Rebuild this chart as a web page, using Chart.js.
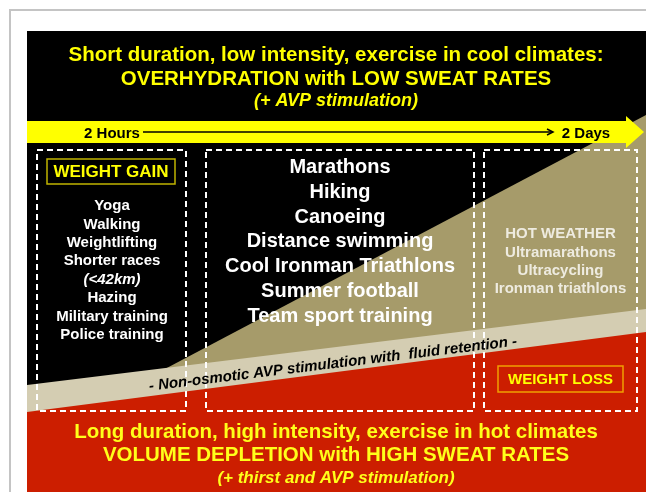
<!DOCTYPE html>
<html>
<head>
<meta charset="utf-8">
<script src="https://cdn.jsdelivr.net/npm/chart.js@4.4.0/dist/chart.umd.min.js"></script>
<style>
  html, body { margin: 0; padding: 0; background: #fff; }
  canvas { display: block; }
</style>
</head>
<body>
<canvas id="hydration" width="646" height="492"></canvas>
<script>
// texts
const topTitle = ['Short duration, low intensity, exercise in cool climates:', 'OVERHYDRATION with LOW SWEAT RATES', '(+ AVP stimulation)'];
const bottomTitle = ['Long duration, high intensity, exercise in hot climates', 'VOLUME DEPLETION with HIGH SWEAT RATES', '(+ thirst and AVP stimulation)'];
const timeLabels = ['2 Hours', '2 Days'];
const shortActivities = ['Yoga', 'Walking', 'Weightlifting', 'Shorter races', '(<42km)', 'Hazing', 'Military training', 'Police training'];
const midActivities = ['Marathons', 'Hiking', 'Canoeing', 'Distance swimming', 'Cool Ironman Triathlons', 'Summer football', 'Team sport training'];
const hotActivities = ['HOT WEATHER', 'Ultramarathons', 'Ultracycling', 'Ironman triathlons'];
const outcomes = ['WEIGHT GAIN', 'WEIGHT LOSS'];
const bandLabel = '- Non-osmotic AVP stimulation with  fluid retention -';

// region boundaries (x from left, y from top)
const bandX = [27, 646];
const bandTop = [385, 309];
const bandBottom = [412, 332];
const wedgeX = [163, 646];
const wedgeTop = [370, 115];

const KHAKI = '#a69b6a';
const BEIGE = '#d4cdb2';
const RED = '#cc1e00';
const YELLOW = '#ffff00';
const FONT = '"Liberation Sans", Arial, sans-serif';

const pts = (xs, ys) => xs.map((x, i) => ({ x, y: ys[i] }));

function label(ctx, s, x, y, size, color, italic) {
  ctx.font = (italic ? 'italic ' : '') + 'bold ' + size + 'px ' + FONT;
  ctx.fillStyle = color;
  ctx.textAlign = 'center';
  ctx.textBaseline = 'middle';
  ctx.fillText(s, x, y);
}

const backdrop = {
  id: 'backdrop',
  beforeDraw(chart) {
    const { ctx } = chart;
    const X = v => chart.scales.x.getPixelForValue(v);
    const Y = v => chart.scales.y.getPixelForValue(v);
    ctx.save();
    ctx.fillStyle = '#fff';
    ctx.fillRect(0, 0, chart.width, chart.height);
    // thin grey frame
    ctx.strokeStyle = '#c4c4c4';
    ctx.lineWidth = 2;
    ctx.beginPath();
    ctx.moveTo(X(10), Y(492));
    ctx.lineTo(X(10), Y(10));
    ctx.lineTo(X(646), Y(10));
    ctx.stroke();
    // black panel
    ctx.fillStyle = '#000';
    ctx.fillRect(X(27), Y(31), X(646) - X(27), Y(412) - Y(31));
    ctx.restore();
  },
  afterDatasetsDraw(chart) {
    const { ctx } = chart;
    const X = v => chart.scales.x.getPixelForValue(v);
    const Y = v => chart.scales.y.getPixelForValue(v);
    ctx.save();

    // bottom red panel
    ctx.fillStyle = RED;
    ctx.fillRect(X(27), Y(412), X(646) - X(27), Y(492) - Y(412));

    // time arrow
    ctx.fillStyle = YELLOW;
    ctx.fillRect(X(27), Y(121), X(627) - X(27), Y(143) - Y(121));
    ctx.beginPath();
    ctx.moveTo(X(626), Y(116));
    ctx.lineTo(X(644), Y(132));
    ctx.lineTo(X(626), Y(148));
    ctx.closePath();
    ctx.fill();
    ctx.strokeStyle = '#000';
    ctx.lineWidth = 1.5;
    ctx.beginPath();
    ctx.moveTo(X(143), Y(132));
    ctx.lineTo(X(552), Y(132));
    ctx.stroke();
    ctx.beginPath();
    ctx.moveTo(X(547), Y(129));
    ctx.lineTo(X(553), Y(132));
    ctx.lineTo(X(547), Y(135));
    ctx.stroke();
    label(ctx, timeLabels[0], X(112), Y(134), 15, '#000');
    label(ctx, timeLabels[1], X(586), Y(134), 15, '#000');

    // dashed boxes
    ctx.strokeStyle = '#fff';
    ctx.lineWidth = 2;
    ctx.setLineDash([6, 4]);
    [[37, 186], [206, 474], [484, 637]].forEach(([a, b]) => {
      ctx.strokeRect(X(a), Y(150), X(b) - X(a), Y(411) - Y(150));
    });
    ctx.setLineDash([]);

    // outcome boxes
    ctx.lineWidth = 1.5;
    ctx.strokeStyle = '#c0b400';
    ctx.fillStyle = '#000';
    ctx.fillRect(X(47), Y(159), X(175) - X(47), Y(184) - Y(159));
    ctx.strokeRect(X(47), Y(159), X(175) - X(47), Y(184) - Y(159));
    label(ctx, outcomes[0], X(111), Y(172), 17, YELLOW);
    ctx.strokeStyle = '#f0a000';
    ctx.strokeRect(X(498), Y(366), X(623) - X(498), Y(392) - Y(366));
    label(ctx, outcomes[1], X(560.5), Y(379.5), 15, YELLOW);

    // titles
    topTitle.forEach((s, i) => label(ctx, s, X(336), Y([55, 79, 101][i]), i === 2 ? 18 : 20.5, YELLOW, i === 2));
    bottomTitle.forEach((s, i) => label(ctx, s, X(336), Y([432, 455, 478][i]), i === 2 ? 17 : 20.5, '#ffff1a', i === 2));

    // activity lists
    shortActivities.forEach((s, i) => label(ctx, s, X(112), Y(206 + i * 18.4), 15, '#fff', s.startsWith('(')));
    midActivities.forEach((s, i) => label(ctx, s, X(340), Y(167.5 + i * 24.8), 20, '#fff'));
    hotActivities.forEach((s, i) => label(ctx, s, X(560.5), Y(234 + i * 18.4), 15, '#eeebe0'));

    // band caption along the beige band
    const ang = Math.atan2(Y(bandTop[1]) - Y(bandTop[0]), X(bandX[1]) - X(bandX[0]));
    ctx.translate(X(333), Y(364));
    ctx.rotate(ang);
    label(ctx, bandLabel, 0, 0, 15, '#000', true);

    ctx.restore();
  }
};

new Chart(document.getElementById('hydration'), {
  type: 'line',
  data: {
    datasets: [
      { label: 'Volume depletion', data: pts(bandX, bandBottom), backgroundColor: RED, fill: { value: 412 }, order: 1 },
      { label: 'Non-osmotic AVP', data: pts(bandX, bandTop), backgroundColor: BEIGE, fill: { value: 412 }, order: 2 },
      { label: 'Hot weather', data: pts(wedgeX, wedgeTop), backgroundColor: KHAKI, fill: { value: 412 }, order: 3 }
    ]
  },
  options: {
    responsive: false,
    animation: false,
    layout: { padding: 0 },
    elements: { point: { radius: 0 }, line: { borderWidth: 0, tension: 0 } },
    plugins: { legend: { display: false }, tooltip: { enabled: false } },
    scales: {
      x: { type: 'linear', min: 0, max: 646, display: false },
      y: { type: 'linear', min: 0, max: 492, reverse: true, display: false }
    }
  },
  plugins: [backdrop]
});
</script>
</body>
</html>
